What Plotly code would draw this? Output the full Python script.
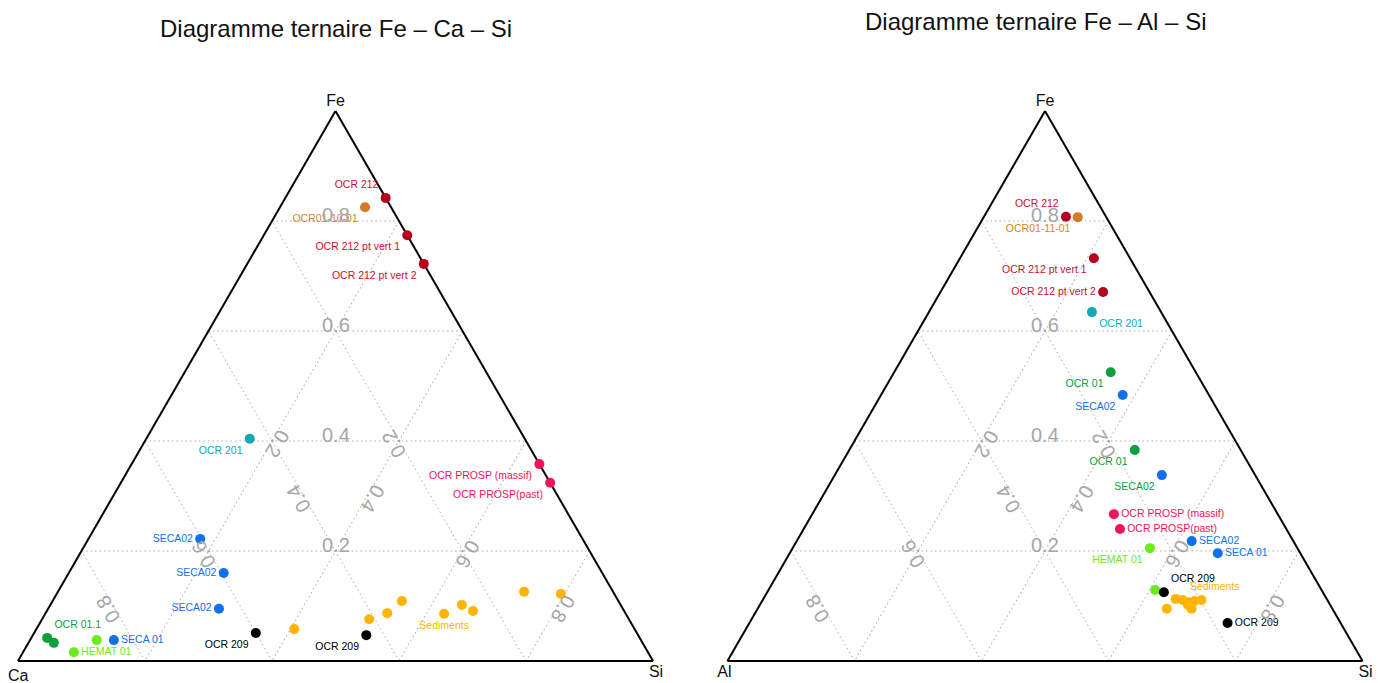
"""Two ternary diagrams (Fe-Ca-Si and Fe-Al-Si) built with Plotly scatterternary."""
import math

import plotly.graph_objects as go

# --- data: left diagram Fe - Ca - Si ---
L_GROUP = [
    "OCR 212", "OCR01", "OCR 212", "OCR 212", "OCR 201", "PROSP", "PROSP",
    "SECA", "SECA", "SECA", "SECA", "OCR 01", "OCR 01", "HEMAT", "HEMAT",
    "OCR 209", "OCR 209",
    "SED", "SED", "SED", "SED", "SED", "SED", "SED", "SED", "SED",
]
L_FE = [0.842, 0.825, 0.774, 0.722, 0.404, 0.358, 0.324,
        0.222, 0.160, 0.095, 0.038, 0.042, 0.033, 0.038, 0.016,
        0.051, 0.047,
        0.058, 0.076, 0.087, 0.109, 0.086, 0.102, 0.091, 0.126, 0.122]
L_CA = [0.000, 0.041, 0.000, 0.000, 0.433, 0.000, 0.000,
        0.602, 0.596, 0.636, 0.830, 0.933, 0.927, 0.857, 0.904,
        0.600, 0.428,
        0.536, 0.409, 0.375, 0.341, 0.286, 0.250, 0.238, 0.140, 0.084]
L_SI = [0.158, 0.134, 0.226, 0.278, 0.163, 0.642, 0.676,
        0.176, 0.244, 0.269, 0.132, 0.025, 0.040, 0.105, 0.080,
        0.349, 0.525,
        0.406, 0.515, 0.538, 0.550, 0.628, 0.648, 0.671, 0.734, 0.794]
L_LABEL = [
    "OCR 212", "OCR01-10-01", "OCR 212 pt vert 1", "OCR 212 pt vert 2", "OCR 201",
    "OCR PROSP (massif)", "OCR PROSP(past)",
    "SECA02", "SECA02", "SECA02", "SECA 01", "OCR 01.1", "", "", "HEMAT 01",
    "OCR 209", "OCR 209",
    "", "", "", "", "Sediments", "", "", "", "",
]

# --- data: right diagram Fe - Al - Si ---
R_GROUP = [
    "OCR 212", "OCR01", "OCR 212", "OCR 212", "OCR 201", "OCR 01", "SECA",
    "OCR 01", "SECA", "PROSP", "PROSP", "SECA", "SECA", "HEMAT", "HEMAT",
    "OCR 209", "OCR 209",
    "SED", "SED", "SED", "SED", "SED", "SED", "SED", "SED",
]
R_FE = [0.807, 0.807, 0.733, 0.671, 0.635, 0.525, 0.484,
        0.384, 0.338, 0.267, 0.240, 0.218, 0.196, 0.205, 0.129,
        0.125, 0.069,
        0.113, 0.111, 0.107, 0.109, 0.111, 0.095, 0.102, 0.095]
R_AL = [0.063, 0.045, 0.057, 0.073, 0.109, 0.134, 0.136,
        0.167, 0.147, 0.258, 0.262, 0.160, 0.130, 0.232, 0.262,
        0.250, 0.178,
        0.238, 0.228, 0.220, 0.210, 0.198, 0.222, 0.224, 0.261]
R_SI = [0.129, 0.148, 0.211, 0.256, 0.257, 0.341, 0.381,
        0.450, 0.515, 0.475, 0.498, 0.622, 0.674, 0.562, 0.609,
        0.624, 0.753,
        0.650, 0.662, 0.673, 0.681, 0.691, 0.684, 0.674, 0.645]
R_LABEL = [
    "OCR 212", "OCR01-11-01", "OCR 212 pt vert 1", "OCR 212 pt vert 2", "OCR 201",
    "OCR 01", "SECA02", "OCR 01", "SECA02", "OCR PROSP (massif)", "OCR PROSP(past)",
    "SECA02", "SECA 01", "HEMAT 01", "", "OCR 209", "OCR 209",
    "", "Sediments", "", "", "", "", "", "",
]

GRID_TICKS = [0.2, 0.4, 0.6, 0.8]

# --- styles ---
POINT_COLOR = {
    "OCR 212": "#b5001e",
    "OCR01": "#d27a26",
    "OCR 201": "#12a9b3",
    "PROSP": "#f2145a",
    "SECA": "#1170ee",
    "OCR 01": "#0aa03e",
    "HEMAT": "#6aec1c",
    "OCR 209": "#000000",
    "SED": "#ffb400",
}
TEXT_COLOR = dict(POINT_COLOR, **{"OCR 212": "#c8102e", "OCR01": "#d8842e"})

L_TEXTPOS = [
    "top left", "bottom left", "bottom left", "bottom left", "bottom left",
    "bottom left", "bottom left",
    "middle left", "middle left", "middle left", "middle right", "top right",
    "middle right", "middle right", "middle right",
    "bottom left", "bottom left",
    "bottom center", "bottom center", "bottom center", "bottom center", "bottom center",
    "bottom center", "bottom center", "bottom center", "bottom center",
]
R_TEXTPOS = [
    "top left", "bottom left", "bottom left", "middle left", "bottom right",
    "bottom left", "bottom left", "bottom left", "bottom left",
    "middle right", "middle right", "middle right", "middle right",
    "bottom left", "bottom left", "top right", "middle right",
    "top right", "top right", "top right", "top right", "top right",
    "top right", "top right", "top right",
]
R_TEXT_OVERRIDE = {8: "OCR 01"}  # that SECA02 label is printed in green

FONT = "Liberation Sans, Arial, Helvetica, sans-serif"
GRID = "#ababab"
TICK_GRAY = "#a6a6a6"

# the page body adds an 8 px margin around the figure; the figure runs
# past the bottom/right edge of the window so the corner labels are not cut
PAD = 8
W, H = 1382 - PAD, 683 - PAD

# triangles on screen: apex y=111, base y=661, centres x=335.5 and 1045
TRI_TOP, TRI_BOTTOM = 111 - PAD, 661 - PAD
LEFT_DOMAIN = dict(x=[(335.5 - PAD - 326) / W, (335.5 - PAD + 326) / W],
                   y=[1 - TRI_BOTTOM / H, 1 - TRI_TOP / H])
RIGHT_DOMAIN = dict(x=[(1045 - PAD - 326) / W, (1045 - PAD + 326) / W],
                    y=[1 - TRI_BOTTOM / H, 1 - TRI_TOP / H])


def _tri_geom(domain):
    """Pixel geometry of the plotly ternary triangle inside `domain` (margins 0)."""
    wmax = (domain["x"][1] - domain["x"][0]) * W
    hmax = (domain["y"][1] - domain["y"][0]) * H
    ratio = 2 / math.sqrt(3)
    if wmax > ratio * hmax:
        h = hmax
        w = h * ratio
    else:
        w = wmax
        h = w / ratio
    x0 = W * (domain["x"][0] + domain["x"][1]) / 2 - w / 2
    y0 = H * (1 - (domain["y"][0] + domain["y"][1]) / 2) - h / 2
    return x0, y0, w, h


def _to_paper(geom, a, b, c, dx=0.0, dy=0.0):
    x0, y0, w, h = geom
    px = x0 + w * (c + a / 2) + dx
    py = y0 + h * (1 - a) + dy
    return px / W, 1 - py / H


def _grid_labels(domain):
    """Grid values written inside the triangle along each axis' median."""
    geom = _tri_geom(domain)
    off = 6
    notes = []
    for v in GRID_TICKS:
        r = (1 - v) / 2
        specs = [
            ((v, r, r), 0, (0, -off)),
            ((r, v, r), -120, (-0.866 * off, 0.5 * off)),
            ((r, r, v), 120, (0.866 * off, 0.5 * off)),
        ]
        for (a, b, c), angle, (dx, dy) in specs:
            x, y = _to_paper(geom, a, b, c, dx, dy)
            notes.append(dict(
                x=x, y=y, xref="paper", yref="paper", text=f"{v:.1f}",
                xanchor="center", yanchor="middle",
                textangle=angle, showarrow=False,
                font=dict(family=FONT, size=20, color=TICK_GRAY),
            ))
    return notes


def _points_trace(fe, other, si, groups, labels, textpos, subplot, text_groups):
    return go.Scatterternary(
        a=fe, b=other, c=si,
        mode="markers+text",
        text=labels,
        textposition=textpos,
        textfont=dict(family=FONT, size=10.5, color=[TEXT_COLOR[g] for g in text_groups]),
        marker=dict(size=10, color=[POINT_COLOR[g] for g in groups], line=dict(width=0)),
        cliponaxis=False,
        hoverinfo="skip",
        showlegend=False,
        subplot=subplot,
    )


def _axis(title):
    return dict(
        title=dict(text=title, font=dict(family=FONT, size=16, color="#111111")),
        showticklabels=False,
        ticks="",
        tick0=0, dtick=0.2,
        showgrid=True, gridcolor=GRID, gridwidth=1, griddash="1.5px,3px",
        showline=True, linecolor="#000000", linewidth=2,
        layer="below traces",
    )


def _ternary(domain, bname):
    return dict(
        domain=domain, sum=1, bgcolor="#ffffff",
        aaxis=_axis("Fe"), baxis=_axis(bname), caxis=_axis("Si"),
    )


r_text_groups = [R_TEXT_OVERRIDE.get(i, g) for i, g in enumerate(R_GROUP)]

fig = go.Figure()
fig.add_trace(_points_trace(L_FE, L_CA, L_SI, L_GROUP, L_LABEL, L_TEXTPOS, "ternary", L_GROUP))
fig.add_trace(_points_trace(R_FE, R_AL, R_SI, R_GROUP, R_LABEL, R_TEXTPOS, "ternary2", r_text_groups))

titles = [
    dict(x=(336 - PAD) / W, y=1 - (28 - PAD) / H, text="Diagramme ternaire Fe – Ca – Si"),
    dict(x=(1035 - PAD) / W, y=1 - (21 - PAD) / H, text="Diagramme ternaire Fe – Al – Si"),
]
annotations = [
    dict(t, xref="paper", yref="paper", showarrow=False,
         xanchor="center", yanchor="middle",
         font=dict(family=FONT, size=24, color="#111111"))
    for t in titles
]
# "Ca" sits too close to the page edge for plotly's own corner title
annotations.append(dict(
    x=(18 - PAD) / W, y=1 - (675 - PAD) / H, xref="paper", yref="paper",
    text="Ca", showarrow=False, xanchor="center", yanchor="middle",
    font=dict(family=FONT, size=16, color="#111111"),
))
annotations += _grid_labels(LEFT_DOMAIN) + _grid_labels(RIGHT_DOMAIN)

left_ternary = _ternary(LEFT_DOMAIN, "Ca")
left_ternary["baxis"]["title"]["text"] = ""

fig.update_layout(
    width=W, height=H,
    ternary=left_ternary,
    ternary2=_ternary(RIGHT_DOMAIN, "Al"),
    annotations=annotations,
    paper_bgcolor="#ffffff",
    margin=dict(l=0, r=0, t=0, b=0),
    showlegend=False,
    font=dict(family=FONT),
)

fig.write_html("out.html")
